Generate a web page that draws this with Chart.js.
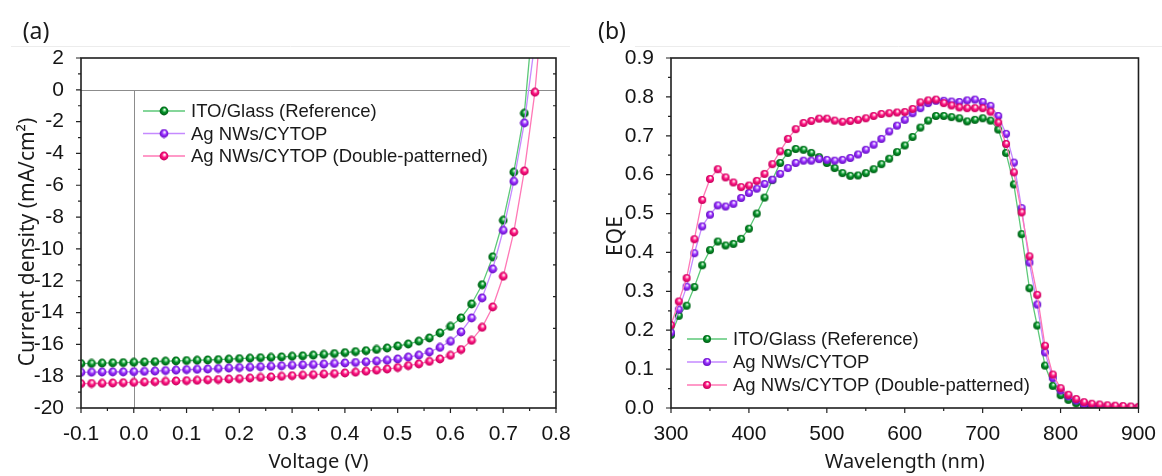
<!DOCTYPE html>
<html><head><meta charset="utf-8">
<script src="https://cdn.jsdelivr.net/npm/chart.js@4.4.1/dist/chart.umd.min.js"></script>
<style>
html,body{margin:0;padding:0;background:#fff;}
body{width:1162px;height:476px;overflow:hidden;position:relative;}
.box{position:absolute;top:0;height:476px;}
#wa{left:0;width:580px;}
#wb{left:580px;width:582px;}
canvas{display:block;}
</style></head>
<body>
<div class="box" id="wa"><canvas id="ca" width="580" height="476"></canvas></div>
<div class="box" id="wb"><canvas id="cb" width="582" height="476"></canvas></div>
<script>
// ---------- Panel (a): J-V ----------
const voltage = [-0.10,-0.08,-0.06,-0.04,-0.02,0.00,0.02,0.04,0.06,0.08,0.10,0.12,0.14,0.16,0.18,0.20,0.22,0.24,0.26,0.28,0.30,0.32,0.34,0.36,0.38,0.40,0.42,0.44,0.46,0.48,0.50,0.52,0.54,0.56,0.58,0.60,0.62,0.64,0.66,0.68,0.70,0.72,0.74,0.76,0.78];
const jITO = [-17.21,-17.20,-17.18,-17.16,-17.15,-17.13,-17.11,-17.09,-17.06,-17.04,-17.02,-17.00,-16.98,-16.96,-16.93,-16.90,-16.87,-16.84,-16.82,-16.79,-16.75,-16.72,-16.68,-16.63,-16.58,-16.52,-16.46,-16.40,-16.32,-16.23,-16.10,-15.98,-15.80,-15.60,-15.28,-14.87,-14.34,-13.46,-12.25,-10.50,-8.20,-5.17,-1.47,5.8,null];
const jAg = [-17.76,-17.75,-17.74,-17.73,-17.73,-17.72,-17.70,-17.68,-17.65,-17.62,-17.59,-17.57,-17.55,-17.52,-17.49,-17.46,-17.44,-17.41,-17.38,-17.35,-17.32,-17.29,-17.27,-17.24,-17.20,-17.17,-17.14,-17.10,-17.05,-17.00,-16.92,-16.80,-16.68,-16.48,-16.19,-15.81,-15.22,-14.34,-13.08,-11.26,-8.83,-5.75,-2.08,3.0,null];
const jAgDP = [-18.47,-18.46,-18.45,-18.43,-18.41,-18.39,-18.37,-18.35,-18.33,-18.30,-18.28,-18.26,-18.23,-18.21,-18.18,-18.16,-18.12,-18.08,-18.05,-18.01,-17.97,-17.94,-17.91,-17.87,-17.84,-17.80,-17.75,-17.69,-17.62,-17.55,-17.46,-17.34,-17.23,-17.07,-16.92,-16.69,-16.33,-15.75,-14.93,-13.65,-11.72,-8.94,-5.10,-0.15,7.4];
const voltTicks = [-0.1,0.0,0.1,0.2,0.3,0.4,0.5,0.6,0.7,0.8];
const jTicks = [-20,-18,-16,-14,-12,-10,-8,-6,-4,-2,0,2];

// ---------- Panel (b): EQE ----------
const wavelength = [300,310,320,330,340,350,360,370,380,390,400,410,420,430,440,450,460,470,480,490,500,510,520,530,540,550,560,570,580,590,600,610,620,630,640,650,660,670,680,690,700,710,720,730,740,750,760,770,780,790,800,810,820,830,840,850,860,870,880,890,900];
const eqeITO = [0.188,0.237,0.263,0.311,0.367,0.406,0.428,0.418,0.422,0.435,0.461,0.500,0.541,0.586,0.630,0.656,0.666,0.664,0.656,0.645,0.630,0.617,0.604,0.597,0.598,0.604,0.614,0.627,0.641,0.658,0.675,0.697,0.721,0.739,0.751,0.751,0.748,0.745,0.737,0.741,0.745,0.739,0.716,0.656,0.575,0.447,0.308,0.212,0.109,0.057,0.033,0.021,0.012,0.005,0.002,0.001,0,0,0,0,0];
const eqeAg = [0.194,0.253,0.312,0.398,0.467,0.497,0.521,0.518,0.525,0.540,0.553,0.564,0.576,0.587,0.602,0.617,0.630,0.636,0.636,0.640,0.638,0.636,0.638,0.643,0.652,0.664,0.677,0.692,0.711,0.726,0.741,0.758,0.771,0.784,0.790,0.790,0.788,0.787,0.791,0.793,0.787,0.777,0.751,0.705,0.631,0.514,0.374,0.266,0.143,0.077,0.045,0.030,0.019,0.009,0.006,0.004,0.003,0.002,0.001,0.001,0.000];
const eqeAgDP = [0.213,0.274,0.334,0.434,0.535,0.589,0.614,0.593,0.580,0.568,0.572,0.584,0.602,0.627,0.660,0.692,0.717,0.733,0.738,0.744,0.744,0.739,0.736,0.738,0.741,0.745,0.751,0.756,0.758,0.760,0.761,0.769,0.786,0.791,0.793,0.784,0.778,0.773,0.771,0.771,0.771,0.762,0.734,0.679,0.606,0.503,0.390,0.291,0.160,0.086,0.051,0.034,0.023,0.015,0.011,0.009,0.007,0.006,0.005,0.004,0.003];
const wlTicks = [300,400,500,600,700,800,900];
const eqeTicks = [0.0,0.1,0.2,0.3,0.4,0.5,0.6,0.7,0.8,0.9];

const seriesNames = ['ITO/Glass (Reference)','Ag NWs/CYTOP','Ag NWs/CYTOP (Double-patterned)'];

// ---------- styling ----------
const TICK_FONT = '"Liberation Sans", Arial, sans-serif';
const TITLE_FONT = '"Noto Sans", sans-serif';
const styles = [
  {line:'#5cc878', base:'#05922a', light:'#8fe0a0', dark:'#005c14'},
  {line:'#c58aff', base:'#9a2eff', light:'#dcb8ff', dark:'#6410c0'},
  {line:'#ff78b6', base:'#ff1582', light:'#ffb6d6', dark:'#c4005a'}
];
function sphere(s, r){
  const d = 10;
  const c = document.createElement('canvas'); c.width = d; c.height = d;
  const g = c.getContext('2d'); const cx = d/2, cy = d/2;
  const gr = g.createRadialGradient(cx+0.7, cy-1.6, 0.1, cx, cy, r);
  gr.addColorStop(0, '#ffffff');
  gr.addColorStop(0.22, s.light);
  gr.addColorStop(0.5, s.base);
  gr.addColorStop(1, s.dark);
  g.fillStyle = gr; g.beginPath(); g.arc(cx, cy, r, 0, Math.PI*2); g.fill();
  return c;
}
function pts(xs, ys){ const o=[]; for(let i=0;i<xs.length;i++){ if(ys[i]!==null && ys[i]!==undefined) o.push({x:xs[i], y:ys[i]}); } return o; }
function ds(i, xs, ys, r){
  return {label: seriesNames[i], data: pts(xs, ys), showLine:true, borderColor: styles[i].line, borderWidth:1.3,
    pointStyle: sphere(styles[i], r), pointRadius:4, pointHoverRadius:4, tension:0, order: 3-i};
}

function decoPlugin(cfg){
  return {
    id: 'deco',
    beforeDatasetsDraw(chart){
      if(!cfg.zero) return;
      const {ctx, chartArea:a, scales:{x,y}} = chart;
      ctx.save(); ctx.strokeStyle='#8c8c8c'; ctx.lineWidth=1;
      const y0 = Math.round(y.getPixelForValue(0))+0.5, x0 = Math.round(x.getPixelForValue(0))+0.5;
      ctx.beginPath(); ctx.moveTo(a.left,y0); ctx.lineTo(a.right,y0); ctx.moveTo(x0,y0); ctx.lineTo(x0,a.bottom); ctx.stroke();
      ctx.restore();
    },
    afterDraw(chart){
      const {ctx, chartArea:a, scales:{x,y}} = chart;
      ctx.save();
      ctx.strokeStyle='#ececec'; ctx.lineWidth=1;
      ctx.beginPath(); ctx.moveTo(cfg.faint[0],46.5); ctx.lineTo(cfg.faint[1],46.5); ctx.stroke();
      ctx.strokeStyle='#222'; ctx.lineWidth=1.2;
      ctx.beginPath();
      const nx = Math.round((cfg.xr[1]-cfg.xr[0])/cfg.xr[2]);
      for(let n=0;n<=nx;n++){
        const px = x.getPixelForValue(cfg.xr[0]+n*cfg.xr[2]);
        const len = (n%2===0)?5:3;
        ctx.moveTo(px, a.bottom); ctx.lineTo(px, a.bottom+len);
      }
      const ny = Math.round((cfg.yr[1]-cfg.yr[0])/cfg.yr[2]);
      for(let n=0;n<=ny;n++){
        const py = y.getPixelForValue(cfg.yr[0]+n*cfg.yr[2]);
        const len = (n%2===0)?5:3;
        ctx.moveTo(a.left-len, py); ctx.lineTo(a.left, py);
        if(cfg.rightTicks && n%2===1){ ctx.moveTo(a.right, py); ctx.lineTo(a.right-3, py); }
      }
      ctx.stroke();
      ctx.strokeStyle='#1e1e1e'; ctx.lineWidth=1.6;
      ctx.strokeRect(a.left, a.top, a.right-a.left, a.bottom-a.top);
      ctx.fillStyle='#1a1a1a'; ctx.font='23px '+TITLE_FONT; ctx.textAlign='center'; ctx.textBaseline='middle';
      ctx.fillText(cfg.label, cfg.labelPos[0], cfg.labelPos[1]);
      // vertical axis title
      const T = cfg.yTitle;
      ctx.save(); ctx.translate(T.x, T.y); ctx.rotate(-Math.PI/2);
      ctx.font = T.size+'px '+TITLE_FONT; ctx.textAlign='center'; ctx.textBaseline='middle'; ctx.fillStyle='#1a1a1a';
      ctx.fillText(T.text, 0, 0); ctx.restore();
      // legend
      const L = cfg.legend;
      ctx.font='18.5px '+TICK_FONT; ctx.textAlign='left'; ctx.textBaseline='middle';
      chart.data.datasets.forEach((d,i)=>{
        const yy = L.y0 + i*L.dy;
        ctx.strokeStyle = d.borderColor; ctx.lineWidth = 1.3;
        ctx.beginPath(); ctx.moveTo(L.x0, yy); ctx.lineTo(L.x1, yy); ctx.stroke();
        const im = d.pointStyle;
        ctx.drawImage(im, L.mx - im.width/2, yy - im.height/2);
        ctx.fillStyle='#1a1a1a';
        ctx.fillText(d.label, L.tx, yy+1);
      });
      ctx.restore();
    }
  };
}

function mkScale(ticksArr, min, max, fmt, size, title, titlePad, isY){
  return {
    type:'linear', min:min, max:max,
    afterBuildTicks(s){ s.ticks = ticksArr.map(v=>({value:v})); },
    afterFit(s){ if(isY) s.width = size; else s.height = size; },
    grid:{display:false}, border:{display:false},
    ticks:{ callback:(v)=>fmt(v), color:'#141414', padding: isY?9:6, font:{family:TICK_FONT, size:21}, autoSkip:false, maxRotation:0 },
    title:{display: !isY, text:title, color:'#1a1a1a', font:{family:TITLE_FONT, size:20}, padding: titlePad}
  };
}

Chart.defaults.animation = false;

new Chart(document.getElementById('ca'), {
  type:'scatter',
  data:{datasets:[ds(0, voltage, jITO, 4.4), ds(1, voltage, jAg, 4.4), ds(2, voltage, jAgDP, 4.4)]},
  options:{
    responsive:false, devicePixelRatio:1, animation:false,
    layout:{padding:{left:0, right:24, top:58, bottom:0}},
    plugins:{legend:{display:false}, tooltip:{enabled:false}},
    scales:{
      x: mkScale(voltTicks, -0.1, 0.8, v=>v.toFixed(1), 68, 'Voltage (V)', {top:0,bottom:2}, false),
      y: mkScale(jTicks, -20, 2, v=>String(v), 81, '', {top:0,bottom:0}, true)
    }
  },
  plugins:[decoPlugin({zero:true, faint:[11,570], xr:[-0.1,0.8,0.05], yr:[-20,2,1], rightTicks:true,
    label:'(a)', labelPos:[36,32], yTitle:{text:'Current density (mA/cm²)', x:28, y:242, size:21},
    legend:{x0:143, x1:185, mx:164, tx:191, y0:111, dy:22.5}})]
});

new Chart(document.getElementById('cb'), {
  type:'scatter',
  data:{datasets:[ds(0, wavelength, eqeITO, 4.0), ds(1, wavelength, eqeAg, 4.0), ds(2, wavelength, eqeAgDP, 4.0)]},
  options:{
    responsive:false, devicePixelRatio:1, animation:false,
    layout:{padding:{left:0, right:19, top:58, bottom:0}},
    plugins:{legend:{display:false}, tooltip:{enabled:false}},
    scales:{
      x: mkScale(wlTicks, 300, 900, v=>String(v), 68, 'Wavelength (nm)', {top:0,bottom:2}, false),
      y: mkScale(eqeTicks, 0, 0.9, v=>v.toFixed(1), 91, '', {top:0,bottom:0}, true)
    }
  },
  plugins:[decoPlugin({zero:false, faint:[55,582], xr:[300,900,50], yr:[0,0.9,0.05], rightTicks:false,
    label:'(b)', labelPos:[32,32], yTitle:{text:'EQE', x:36, y:236, size:21},
    legend:{x0:107, x1:147, mx:127, tx:153, y0:339, dy:23}})]
});
</script>
</body></html>
